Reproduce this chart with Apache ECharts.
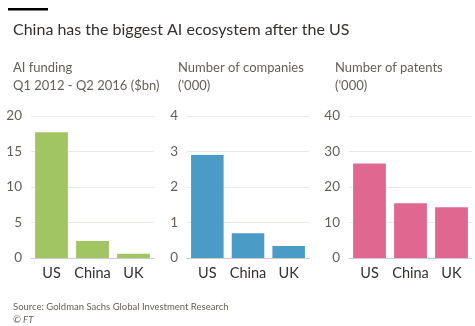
<!DOCTYPE html>
<html>
<head>
<meta charset="utf-8">
<script src="https://cdn.jsdelivr.net/npm/echarts@6/dist/echarts.min.js"></script>
<style>
  html, body { margin: 0; padding: 0; background: #ffffff; }
  #chart { width: 475px; height: 326px; }
</style>
</head>
<body>
<div id="chart"></div>
<script>
// Countries shown in each panel
const countries = ['US', 'China', 'UK'];

// AI funding, Q1 2012 - Q2 2016 ($bn)
const fundingValues = [17.7, 2.4, 0.6];
const fundingTicks = { min: 0, max: 20, interval: 5 };

// Number of companies ('000)
const companyValues = [2.9, 0.7, 0.34];
const companyTicks = { min: 0, max: 4, interval: 1 };

// Number of patents ('000)
const patentValues = [26.6, 15.4, 14.3];
const patentTicks = { min: 0, max: 40, interval: 10 };

const FONT = 'Lato, sans-serif';

const panels = [
  { values: fundingValues, ticks: fundingTicks, color: '#a2c563', left: 31, width: 123 },
  { values: companyValues, ticks: companyTicks, color: '#4a9bc6', left: 187, width: 122 },
  { values: patentValues, ticks: patentTicks, color: '#e06890', left: 349, width: 123 }
];

const chart = echarts.init(document.getElementById('chart'), null, { renderer: 'canvas' });

const grids = panels.map(p => ({ left: p.left, width: p.width, top: 116, bottom: 68 }));

const xAxes = panels.map((p, i) => ({
  type: 'category',
  gridIndex: i,
  data: countries,
  axisTick: { show: false },
  axisLine: { show: true, lineStyle: { color: '#cfcac6', width: 1 } },
  axisLabel: { interval: 0, color: '#33302e', fontSize: 14.5, fontFamily: FONT, margin: 8 }
}));

const yAxes = panels.map((p, i) => ({
  type: 'value',
  gridIndex: i,
  min: p.ticks.min,
  max: p.ticks.max,
  interval: p.ticks.interval,
  axisLine: { show: false },
  axisTick: { show: false },
  splitLine: { lineStyle: { color: '#ebe7e3', width: 1 } },
  axisLabel: { color: '#66605c', fontSize: 13.5, fontFamily: FONT, margin: 9 }
}));

const series = panels.map((p, i) => ({
  type: 'bar',
  xAxisIndex: i,
  yAxisIndex: i,
  data: p.values,
  barCategoryGap: '20%',
  itemStyle: { color: p.color },
  silent: true
}));

const subText = { color: '#66605c', fontSize: 13, fontWeight: 'normal', fontFamily: FONT, lineHeight: 18 };

chart.setOption({
  backgroundColor: '#ffffff',
  animation: false,
  title: [
    { text: 'China has the biggest AI ecosystem after the US', left: 8, top: 17,
      textStyle: { color: '#33302e', fontSize: 16, fontWeight: 'normal', fontFamily: FONT } },
    { text: 'AI funding\nQ1 2012 - Q2 2016 ($bn)', left: 8, top: 54, textStyle: subText },
    { text: "Number of companies\n('000)", left: 173, top: 54, textStyle: subText },
    { text: "Number of patents\n('000)", left: 330, top: 54, textStyle: subText },
    { text: 'Source: Goldman Sachs Global Investment Research', left: 8, top: 297,
      textStyle: { color: '#66605c', fontSize: 9.5, fontWeight: 'normal', fontFamily: FONT } },
    { text: '© FT', left: 8, top: 310,
      textStyle: { color: '#66605c', fontSize: 9.5, fontStyle: 'italic', fontWeight: 'normal', fontFamily: FONT } }
  ],
  graphic: [
    { type: 'rect', shape: { x: 8, y: 8, width: 40, height: 2.5 }, style: { fill: '#000000' } }
  ],
  grid: grids,
  xAxis: xAxes,
  yAxis: yAxes,
  series: series
});
</script>
</body>
</html>
